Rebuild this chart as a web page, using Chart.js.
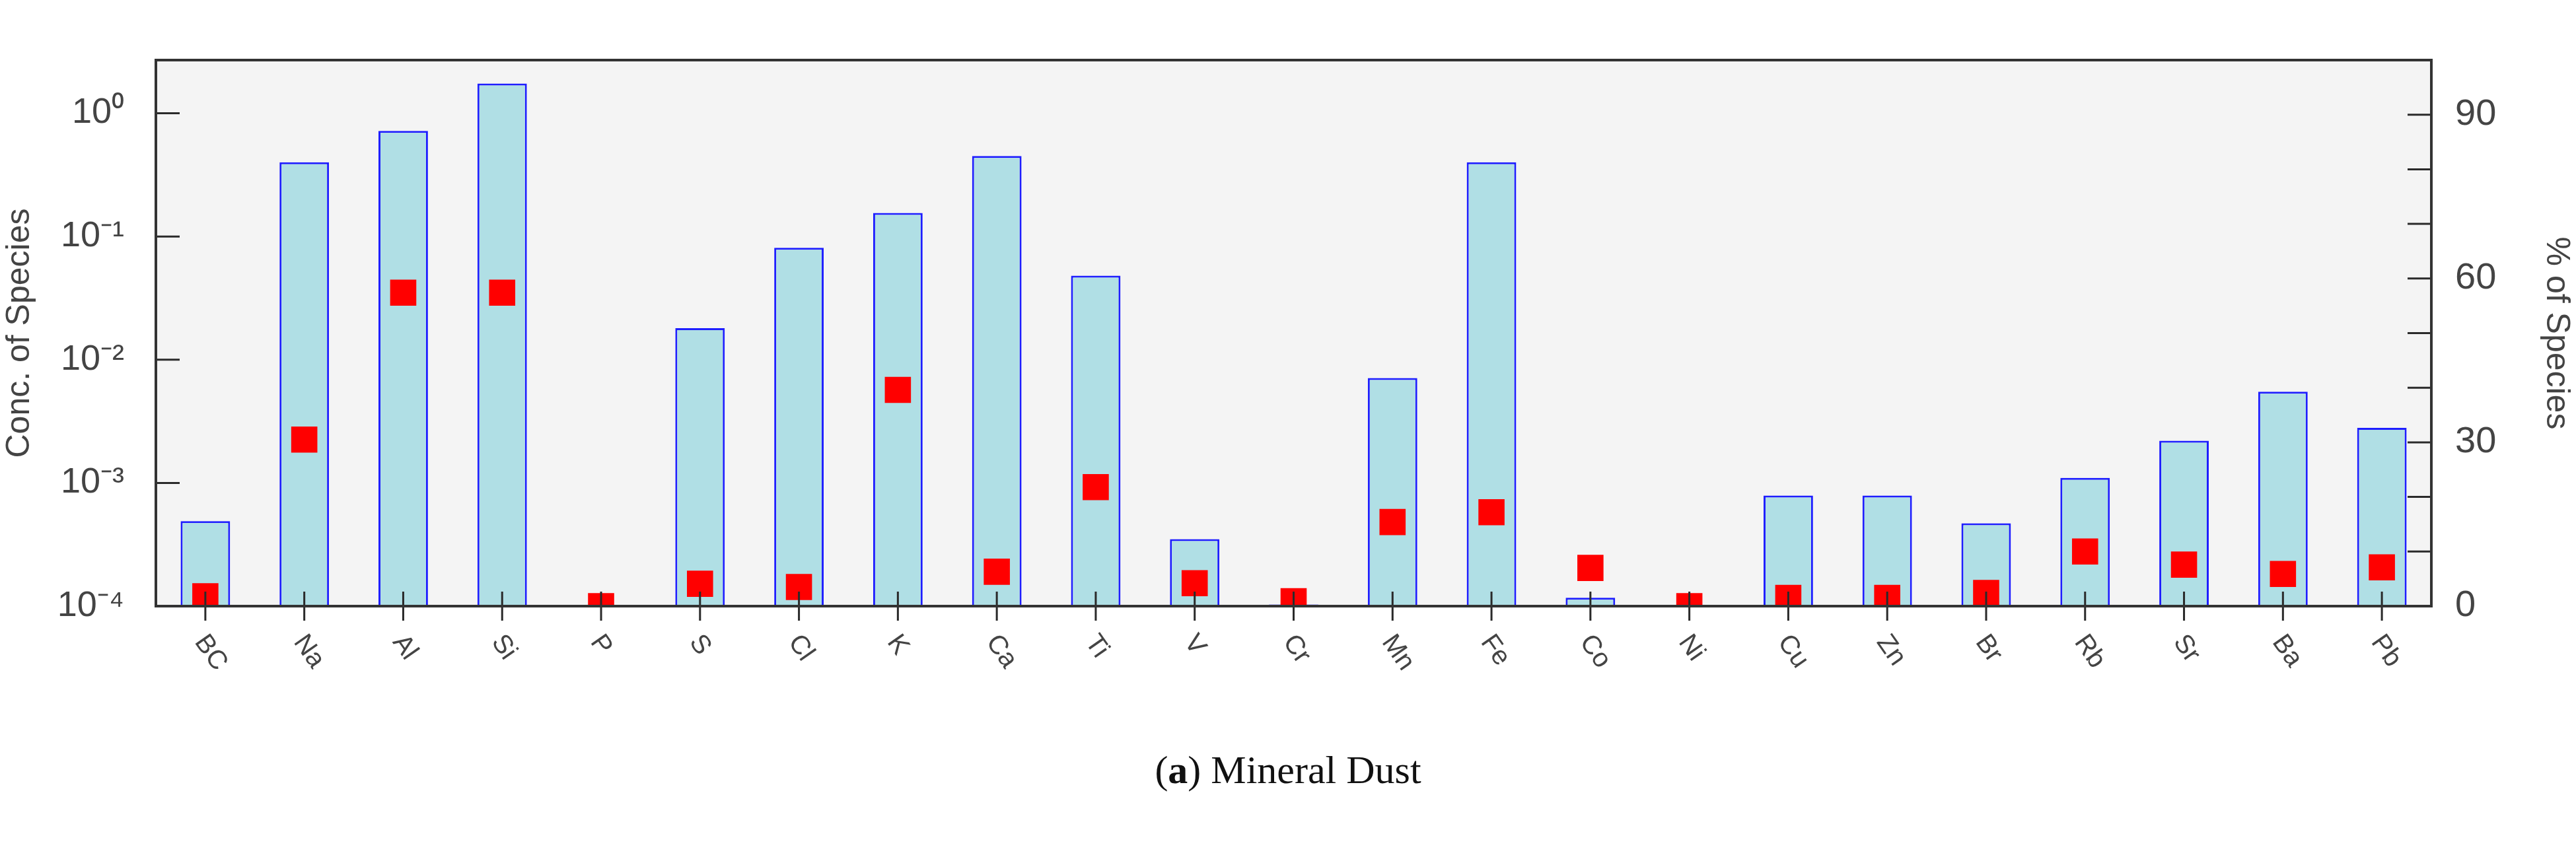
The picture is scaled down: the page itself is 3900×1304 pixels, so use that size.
<!DOCTYPE html>
<html>
<head>
<meta charset="utf-8">
<script src="https://cdn.jsdelivr.net/npm/chart.js@4/dist/chart.umd.min.js"></script>
<style>
  body { margin: 0; background: #fff; width: 3900px; height: 1304px; position: relative; overflow: hidden; }
  #wrap { position: absolute; left: 0; top: 0; width: 3900px; height: 1100px; }
  #caption { position: absolute; left: 0; width: 3900px; top: 1132px; text-align: center;
             font-family: "Liberation Serif", "DejaVu Serif", serif; font-size: 60px; color: #111; }
</style>
</head>
<body>
<div id="wrap"><canvas id="chart"></canvas></div>
<div id="caption">(<b>a</b>) Mineral Dust</div>
<script>
const species = ['BC','Na','Al','Si','P','S','Cl','K','Ca','Ti','V','Cr','Mn','Fe','Co','Ni','Cu','Zn','Br','Rb','Sr','Ba','Pb'];
// concentration of species (log, left axis)
const concValues = [4.9e-4, 0.40, 0.72, 1.74, null, 0.018, 0.081, 0.155, 0.45, 0.048, 3.5e-4, 1.03e-4, 7.1e-3, 0.40, 1.17e-4, null, 7.9e-4, 7.9e-4, 4.7e-4, 1.1e-3, 2.2e-3, 5.5e-3, 2.8e-3];
// % of species (right axis)
const pctValues = [1.8, 30.5, 57.4, 57.4, 0, 4.1, 3.5, 39.6, 6.3, 21.8, 4.2, 0.9, 15.4, 17.2, 7.0, 0, 1.5, 1.5, 2.4, 10.0, 7.6, 5.9, 7.1];
const logTicks = [1e-4, 1e-3, 1e-2, 1e-1, 1];
const logLabels = ['10\u207B\u2074', '10\u207B\u00B3', '10\u207B\u00B2', '10\u207B\u00B9', '10\u2070'];
const pctLabelled = [0, 30, 60, 90];

const framePlugin = {
  id: 'frame',
  beforeDraw(chart) {
    const a = chart.chartArea, ctx = chart.ctx;
    ctx.save();
    ctx.fillStyle = '#f4f4f4';
    ctx.fillRect(a.left, a.top, a.right - a.left, a.bottom - a.top);
    ctx.restore();
  },
  afterDatasetsDraw(chart) {
    const a = chart.chartArea, ctx = chart.ctx;
    const x = chart.scales.x, y = chart.scales.y, y1 = chart.scales.y1;
    ctx.save();
    ctx.strokeStyle = '#2a2a2a';
    ctx.lineWidth = 3;
    ctx.beginPath();
    species.forEach((s, i) => {
      const px = x.getPixelForValue(i);
      ctx.moveTo(px, a.bottom - 22); ctx.lineTo(px, a.bottom + 22);
    });
    logTicks.forEach(v => {
      const py = y.getPixelForValue(v);
      ctx.moveTo(a.left, py); ctx.lineTo(a.left + 36, py);
    });
    for (let v = 0; v <= 100; v += 10) {
      const py = y1.getPixelForValue(v);
      ctx.moveTo(a.right, py); ctx.lineTo(a.right - 36, py);
    }
    ctx.stroke();
    ctx.lineWidth = 4;
    ctx.strokeStyle = '#333';
    ctx.strokeRect(a.left, a.top, a.right - a.left, a.bottom - a.top);
    // rotated category labels
    ctx.fillStyle = '#444';
    ctx.font = '40px "Liberation Sans", Arial, sans-serif';
    ctx.textAlign = 'left';
    ctx.textBaseline = 'middle';
    species.forEach((s, i) => {
      const px = x.getPixelForValue(i);
      ctx.save();
      ctx.translate(px - 8, a.bottom + 48);
      ctx.rotate(55 * Math.PI / 180);
      ctx.fillText(s, 0, 0);
      ctx.restore();
    });
    ctx.restore();
  }
};

new Chart(document.getElementById('chart'), {
  data: {
    labels: species,
    datasets: [
      {
        type: 'line',
        label: '% of Species',
        data: pctValues,
        yAxisID: 'y1',
        showLine: false,
        pointStyle: 'rect',
        pointRadius: 28,
        pointHoverRadius: 28,
        backgroundColor: '#ff0000',
        borderColor: '#ff0000',
        borderWidth: 0,
        order: 1
      },
      {
        type: 'bar',
        label: 'Conc. of Species',
        data: concValues,
        yAxisID: 'y',
        backgroundColor: '#b0dfe5',
        borderColor: '#1e1eff',
        borderWidth: 3,
        barPercentage: 0.5,
        categoryPercentage: 1,
        order: 2
      }
    ]
  },
  options: {
    responsive: true,
    maintainAspectRatio: false,
    animation: false,
    devicePixelRatio: 1,
    layout: { padding: { top: 91, left: 0, right: 0, bottom: 0 } },
    plugins: { legend: { display: false }, tooltip: { enabled: false } },
    scales: {
      x: {
        type: 'category',
        offset: true,
        grid: { display: false },
        border: { display: false },
        ticks: { display: false },
        afterFit(s) { s.height = 1100 - 918; }
      },
      y: {
        type: 'logarithmic',
        position: 'left',
        min: 1e-4,
        max: 2.7,
        grid: { display: false },
        border: { display: false },
        afterBuildTicks(s) { s.ticks = logTicks.map(v => ({ value: v })); },
        ticks: {
          color: '#444',
          padding: 40,
          font: { family: '"Liberation Sans", Arial, sans-serif', size: 54 },
          callback: (v) => { const i = logTicks.indexOf(v); return i >= 0 ? logLabels[i] : ''; }
        },
        title: {
          display: true,
          text: 'Conc. of Species',
          color: '#444',
          padding: 0,
          font: { family: '"Liberation Sans", Arial, sans-serif', size: 50 }
        },
        afterFit(s) { s.width = 236; }
      },
      y1: {
        type: 'linear',
        position: 'right',
        min: 0,
        max: 100,
        grid: { display: false },
        border: { display: false },
        afterBuildTicks(s) { s.ticks = pctLabelled.map(v => ({ value: v })); },
        ticks: {
          color: '#444',
          padding: 28,
          font: { family: '"Liberation Sans", Arial, sans-serif', size: 56 }
        },
        title: {
          display: true,
          text: '% of Species',
          color: '#444',
          padding: 0,
          font: { family: '"Liberation Sans", Arial, sans-serif', size: 50 }
        },
        afterFit(s) { s.width = 3900 - 3681; }
      }
    }
  },
  plugins: [framePlugin]
});
</script>
</body>
</html>
